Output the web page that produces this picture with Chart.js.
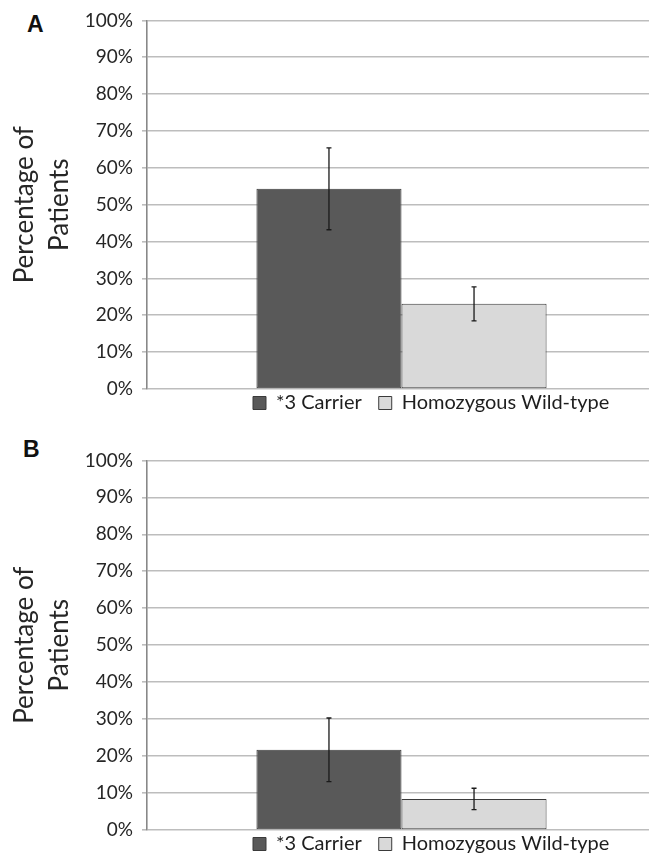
<!DOCTYPE html>
<html>
<head>
<meta charset="utf-8">
<script src="https://cdn.jsdelivr.net/npm/chart.js@4.4.1/dist/chart.umd.min.js"></script>
<style>
  html, body { margin: 0; padding: 0; background: #fff; overflow: hidden; width: 649px; height: 863px; }
  .panel { position: absolute; left: 0; }
  .tag { position: absolute; font: bold 23px "Liberation Sans", Arial, sans-serif; line-height: 1; color: #111; }
</style>
</head>
<body>
<div class="tag" style="left:27px;top:13px">A</div>
<div class="panel" style="top:0"><canvas id="chartA" width="656" height="436"></canvas></div>
<div class="tag" style="left:23px;top:438px">B</div>
<div class="panel" style="top:440px"><canvas id="chartB" width="656" height="437"></canvas></div>
<script>
// data (percent of patients)
const categories = [''];
const seriesNames = ['*3 Carrier', 'Homozygous Wild-type'];
const carrierA = [54.3];
const wildA = [23.1];
const carrierErrA = [11.1];
const wildErrA = [4.6];
const carrierB = [21.7];
const wildB = [8.4];
const carrierErrB = [8.6];
const wildErrB = [2.9];
const yMin = 0;
const yMax = 100;
const yStep = 10;

const FONT = 'Lato, "Open Sans", sans-serif';

// error bars drawn on top of each bar
const errorBars = {
  id: 'errorBars',
  afterDatasetsDraw(chart) {
    const ctx = chart.ctx;
    const y = chart.scales.y;
    ctx.save();
    ctx.strokeStyle = '#1a1a1a';
    ctx.lineWidth = 1.3;
    chart.data.datasets.forEach((ds, i) => {
      const meta = chart.getDatasetMeta(i);
      meta.data.forEach((bar, j) => {
        const v = ds.data[j];
        const e = ds.errors[j];
        const top = y.getPixelForValue(v + e);
        const bot = y.getPixelForValue(v - e);
        ctx.beginPath();
        ctx.moveTo(bar.x, top);
        ctx.lineTo(bar.x, bot);
        ctx.moveTo(bar.x - 2.5, top);
        ctx.lineTo(bar.x + 2.5, top);
        ctx.moveTo(bar.x - 2.5, bot);
        ctx.lineTo(bar.x + 2.5, bot);
        ctx.stroke();
      });
    });
    ctx.restore();
  }
};

// nudge the legend to where it sits in the figure
const legendPlace = {
  id: 'legendPlace',
  afterLayout(chart, args, opts) {
    const lg = chart.legend;
    lg.left = opts.left;
    lg.top = chart.chartArea.bottom + opts.dy;
  }
};

function makeChart(id, carrier, wild, carrierErr, wildErr) {
  return new Chart(document.getElementById(id), {
    type: 'bar',
    plugins: [errorBars, legendPlace],
    data: {
      labels: categories,
      datasets: [
        {
          label: seriesNames[0],
          data: carrier,
          errors: carrierErr,
          backgroundColor: '#595959',
          borderColor: '#3a3a3a',
          borderWidth: 1,
          borderSkipped: false
        },
        {
          label: seriesNames[1],
          data: wild,
          errors: wildErr,
          backgroundColor: '#d9d9d9',
          borderColor: '#3a3a3a',
          borderWidth: 1,
          borderSkipped: false
        }
      ]
    },
    options: {
      responsive: false,
      animation: false,
      layout: { padding: { top: 20, left: 0, right: 0, bottom: 0 } },
      datasets: { bar: { categoryPercentage: 0.57, barPercentage: 1 } },
      scales: {
        x: { display: false },
        y: {
          min: yMin,
          max: yMax,
          afterFit(scale) { scale.width = 147; },
          ticks: {
            stepSize: yStep,
            padding: 9,
            color: '#262626',
            font: { family: FONT, size: 19 },
            callback: (v) => v + '%'
          },
          grid: { color: '#bdbdbd', lineWidth: 1.6, tickLength: 5 },
          border: { color: '#888', width: 1.6 },
          title: {
            display: true,
            text: ['Percentage of', 'Patients'],
            color: '#262626',
            font: { family: FONT, size: 26, lineHeight: 1.35 },
            padding: { top: 7, bottom: 0 }
          }
        }
      },
      plugins: {
        tooltip: { enabled: false },
        legend: {
          position: 'bottom',
          align: 'start',
          labels: {
            boxWidth: 13,
            boxHeight: 13,
            padding: 17,
            color: '#1e1e1e',
            font: { family: FONT, size: 20 }
          }
        },
        legendPlace: { left: 236, dy: -13 }
      }
    }
  });
}

makeChart('chartA', carrierA, wildA, carrierErrA, wildErrA);
makeChart('chartB', carrierB, wildB, carrierErrB, wildErrB);
</script>
</body>
</html>
